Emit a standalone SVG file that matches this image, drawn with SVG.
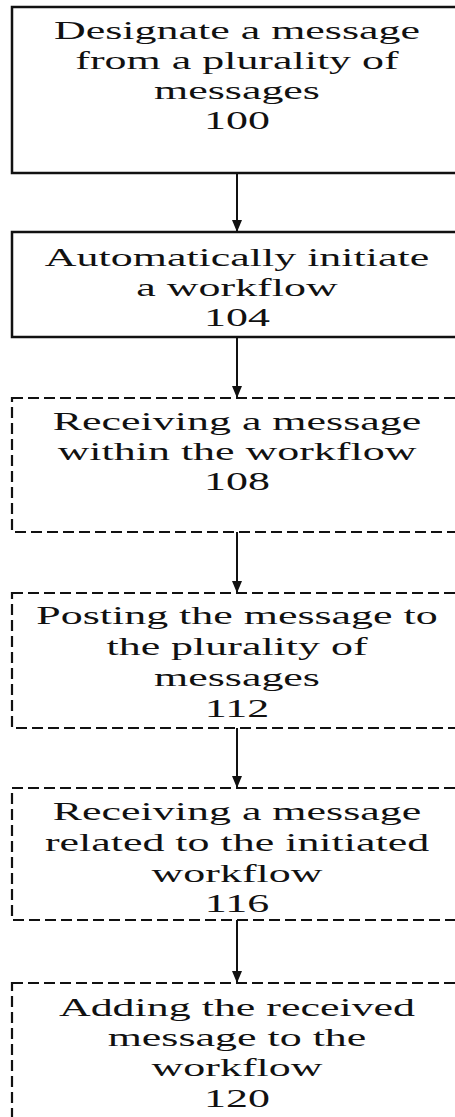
<svg xmlns="http://www.w3.org/2000/svg" width="455" height="1117" viewBox="0 0 455 1117">
<style>
.box{fill:#fff;stroke:#111;stroke-width:2.5}
.dash{fill:#fff;stroke:#111;stroke-width:2.2;stroke-dasharray:11 5}
.lbl{font-family:"Liberation Serif","Times New Roman",serif;font-size:26px;fill:#111;text-anchor:middle}
.conn{stroke:#111;stroke-width:2;fill:none}
</style>
<defs>
<marker id="arr" viewBox="0 0 12 10" refX="12" refY="5" markerWidth="12" markerHeight="10" markerUnits="userSpaceOnUse" orient="auto">
<path d="M0,0 L12,5 L0,10 Z" fill="#111"/>
</marker>
</defs>
<rect width="455" height="1117" fill="#fff"/>
<g id="connectors">
<line class="conn" x1="237" y1="173" x2="237" y2="232" marker-end="url(#arr)"/>
<line class="conn" x1="237" y1="337" x2="237" y2="398" marker-end="url(#arr)"/>
<line class="conn" x1="237" y1="532" x2="237" y2="593" marker-end="url(#arr)"/>
<line class="conn" x1="237" y1="728" x2="237" y2="788" marker-end="url(#arr)"/>
<line class="conn" x1="237" y1="920" x2="237" y2="983" marker-end="url(#arr)"/>
</g>
<g id="node-100">
<rect class="box" x="12" y="7" width="460" height="166"/>
<g transform="translate(237,0) scale(1.69,1)">
<text class="lbl" x="0" y="39">Designate a message</text>
<text class="lbl" x="0" y="69">from a plurality of</text>
<text class="lbl" x="0" y="99">messages</text>
<text class="lbl" x="0" y="129">100</text>
</g>
</g>
<g id="node-104">
<rect class="box" x="12" y="232" width="460" height="105"/>
<g transform="translate(237,0) scale(1.69,1)">
<text class="lbl" x="0" y="266">Automatically initiate</text>
<text class="lbl" x="0" y="296">a workflow</text>
<text class="lbl" x="0" y="326">104</text>
</g>
</g>
<g id="node-108">
<rect class="dash" x="12" y="398" width="460" height="134"/>
<g transform="translate(237,0) scale(1.69,1)">
<text class="lbl" x="0" y="430">Receiving a message</text>
<text class="lbl" x="0" y="460">within the workflow</text>
<text class="lbl" x="0" y="490">108</text>
</g>
</g>
<g id="node-112">
<rect class="dash" x="12" y="593" width="460" height="135"/>
<g transform="translate(237,0) scale(1.69,1)">
<text class="lbl" x="0" y="624">Posting the message to</text>
<text class="lbl" x="0" y="655">the plurality of</text>
<text class="lbl" x="0" y="686">messages</text>
<text class="lbl" x="0" y="717">112</text>
</g>
</g>
<g id="node-116">
<rect class="dash" x="12" y="788" width="460" height="132"/>
<g transform="translate(237,0) scale(1.69,1)">
<text class="lbl" x="0" y="820">Receiving a message</text>
<text class="lbl" x="0" y="851">related to the initiated</text>
<text class="lbl" x="0" y="882">workflow</text>
<text class="lbl" x="0" y="912">116</text>
</g>
</g>
<g id="node-120">
<rect class="dash" x="12" y="983" width="460" height="160"/>
<g transform="translate(237,0) scale(1.69,1)">
<text class="lbl" x="0" y="1016">Adding the received</text>
<text class="lbl" x="0" y="1046">message to the</text>
<text class="lbl" x="0" y="1076">workflow</text>
<text class="lbl" x="0" y="1107">120</text>
</g>
</g>
</svg>
